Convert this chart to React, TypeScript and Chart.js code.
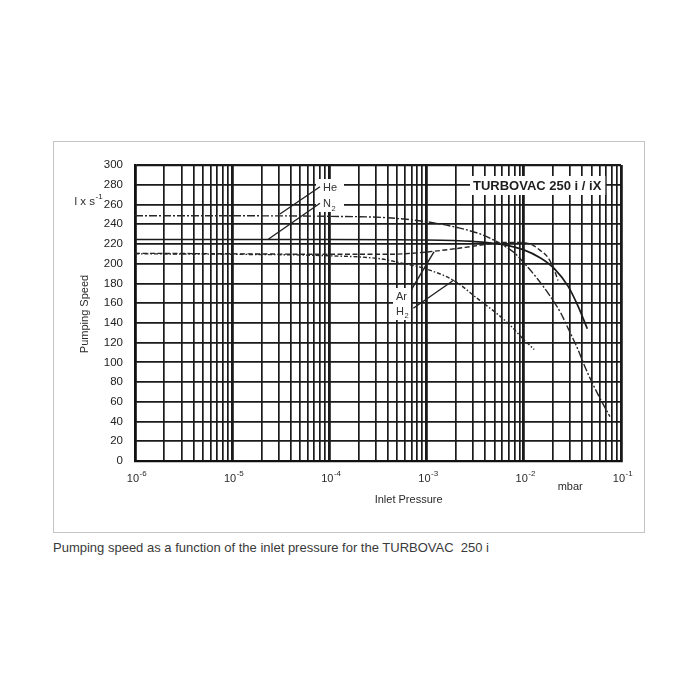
import React, { useEffect, useRef } from "react";
import { Chart, registerables } from "chart.js";

Chart.register(...registerables);

// ---- data (pressure in mbar, pumping speed in l/s) ----
const heP = [1e-6, 1e-5, 1e-4, 4e-4, 1e-3, 2.2e-3, 3.8e-3, 5.8e-3, 8e-3, 0.0102, 0.014, 0.019, 0.024, 0.029, 0.035, 0.045, 0.059, 0.077];
const heS = [248.5, 248.5, 248, 246.5, 242.5, 236, 229, 220, 211, 200, 184, 166, 150, 133, 116, 90, 66, 45];

const n2P = [1e-6, 1e-5, 1e-4, 1e-3, 3e-3, 5.7e-3, 0.01, 0.015, 0.0206, 0.0286, 0.0365, 0.045];
const n2S = [224.5, 224.5, 224.5, 224, 222.5, 219.8, 214, 205.5, 195, 177, 156, 134];

const arP = [1e-6, 1e-5, 1e-4, 4e-4, 7e-4, 1.17e-3, 2.5e-3, 4e-3, 6e-3, 0.0095, 0.0125, 0.0145, 0.0178, 0.0205, 0.0225];
const arS = [210.5, 210, 209.5, 209.5, 210.5, 212.5, 216.5, 219.5, 221.5, 221.5, 218.5, 214, 206, 194, 183];

const h2P = [1e-6, 1e-5, 1e-4, 3.3e-4, 5.3e-4, 9.2e-4, 1.9e-3, 3.5e-3, 5.5e-3, 7.5e-3, 0.01, 0.0128];
const h2S = [210, 209.5, 208, 205, 201, 195.5, 183, 163, 148, 136, 123, 113];

// axes
const decadeExponents = [-6, -5, -4, -3, -2, -1];
const yTickValues = [0, 20, 40, 60, 80, 100, 120, 140, 160, 180, 200, 220, 240, 260, 280, 300];

// annotation anchors in data coordinates [pressure, speed]
const heLeader = [[3.1e-5, 250.3], [8.0e-5, 278]];
const n2Leader = [[2.35e-5, 224.7], [8.0e-5, 261.2]];
const arLeader = [[7.0e-4, 174], [1.19e-3, 212]];
const h2Leader = [[7.3e-4, 154.8], [1.91e-3, 183.4]];
const heLabelAt = [8.6e-5, 276.5];
const n2LabelAt = [8.6e-5, 260];
const arLabelAt = [4.84e-4, 166];
const h2LabelAt = [4.84e-4, 151];

const FONT = '"Liberation Sans", Arial, Helvetica, sans-serif';
const INK = "#262626";

const gridTickValues: number[] = [];
decadeExponents.forEach((e, i) => {
  if (i === decadeExponents.length - 1) {
    gridTickValues.push(Math.pow(10, e));
  } else {
    for (let m = 1; m <= 9; m++) gridTickValues.push(m * Math.pow(10, e));
  }
});

const isDecade = (v: number) => Math.abs(Math.log10(v) - Math.round(Math.log10(v))) < 1e-6;

const pts = (p: number[], s: number[]) => p.map((x, i) => ({ x, y: s[i] }));

const annotPlugin = {
  id: "annot",
  afterDraw(chart: any) {
    const { ctx, chartArea } = chart;
    const xs = chart.scales.x;
    const ys = chart.scales.y;
    const X = (v: number) => xs.getPixelForValue(v);
    const Y = (v: number) => ys.getPixelForValue(v);
    ctx.save();

    // x tick labels 10^n
    ctx.fillStyle = "#2a2a2a";
    decadeExponents.forEach((e) => {
      const px = X(Math.pow(10, e));
      ctx.font = `11px ${FONT}`;
      ctx.textAlign = "right";
      ctx.textBaseline = "alphabetic";
      ctx.fillText("10", px + 4, 482);
      ctx.font = `8px ${FONT}`;
      ctx.textAlign = "left";
      ctx.fillText(String(e), px + 4.5, 476);
    });

    // mbar
    ctx.font = `11px ${FONT}`;
    ctx.textAlign = "center";
    ctx.fillText("mbar", X(0.03), 490);
    // Inlet Pressure
    ctx.fillText("Inlet Pressure", chartArea.left + 0.563 * (chartArea.right - chartArea.left), 503);

    // Pumping Speed (rotated)
    ctx.save();
    ctx.translate(85, (chartArea.top + chartArea.bottom) / 2 + 1);
    ctx.rotate(-Math.PI / 2);
    ctx.textAlign = "center";
    ctx.textBaseline = "middle";
    ctx.font = `11px ${FONT}`;
    ctx.fillText("Pumping Speed", 0, 0);
    ctx.restore();

    // unit l x s^-1
    ctx.font = `11.5px ${FONT}`;
    ctx.textAlign = "right";
    ctx.textBaseline = "alphabetic";
    ctx.fillText("l x s", 95, 205);
    ctx.font = `8px ${FONT}`;
    ctx.textAlign = "left";
    ctx.fillText("-1", 95.5, 199);

    // white boxes behind labels
    ctx.fillStyle = "#fff";
    ctx.fillRect(316, 179, 28, 33);
    ctx.fillRect(393, 288, 18, 32);

    // TURBOVAC title box
    ctx.font = `bold 13px ${FONT}`;
    const title = "TURBOVAC 250 i / iX";
    const tw = ctx.measureText(title).width;
    const tx = 473;
    ctx.fillRect(tx - 3, 176, tw + 7, 19);
    ctx.fillStyle = "#1e1e1e";
    ctx.textAlign = "left";
    ctx.fillText(title, tx, 190);

    // leader lines
    ctx.strokeStyle = "#222";
    ctx.lineWidth = 1.4;
    [heLeader, n2Leader, arLeader, h2Leader].forEach((l) => {
      ctx.beginPath();
      ctx.moveTo(X(l[0][0]), Y(l[0][1]));
      ctx.lineTo(X(l[1][0]), Y(l[1][1]));
      ctx.stroke();
    });

    // gas labels
    const lab = (txt: string, sub: string, at: number[]) => {
      const lx = X(at[0]);
      const ly = Y(at[1]);
      ctx.font = `11px ${FONT}`;
      ctx.textAlign = "left";
      ctx.textBaseline = "middle";
      ctx.fillStyle = "#333";
      ctx.fillText(txt, lx, ly);
      if (sub) {
        const w = ctx.measureText(txt).width;
        ctx.font = `7.5px ${FONT}`;
        ctx.fillText(sub, lx + w + 0.5, ly + 4);
      }
    };
    lab("He", "", heLabelAt);
    lab("N", "2", n2LabelAt);
    lab("Ar", "", arLabelAt);
    lab("H", "2", h2LabelAt);

    ctx.restore();
  },
};

export default function App() {
  const ref = useRef<HTMLCanvasElement>(null);

  useEffect(() => {
    if (!ref.current) return;
    const common = {
      borderColor: INK,
      borderWidth: 1.4,
      pointRadius: 0,
      fill: false,
      cubicInterpolationMode: "monotone" as const,
    };
    const chart = new Chart(ref.current, {
      type: "line",
      data: {
        datasets: [
          { ...common, label: "He", data: pts(heP, heS), borderDash: [8, 2, 2, 2] },
          { ...common, label: "N2", data: pts(n2P, n2S), borderWidth: 1.7, borderColor: "#1a1a1a" },
          { ...common, label: "Ar", data: pts(arP, arS), borderDash: [5, 2.5] },
          { ...common, label: "H2", data: pts(h2P, h2S), borderDash: [4, 2, 1.5, 2] },
        ],
      },
      options: {
        responsive: false,
        animation: false,
        devicePixelRatio: 1,
        layout: { padding: { left: 95, right: 79, top: 165, bottom: 219 } },
        plugins: {
          legend: { display: false },
          tooltip: { enabled: false },
          title: { display: false },
        },
        scales: {
          x: {
            type: "logarithmic",
            min: 1e-6,
            max: 1e-1,
            afterBuildTicks: (s: any) => {
              s.ticks = gridTickValues.map((v) => ({ value: v }));
            },
            afterFit: (s: any) => {
              s.height = 20;
            },
            ticks: { display: false },
            grid: {
              color: "#1a1a1a",
              lineWidth: (c: any) => (c.tick && isDecade(c.tick.value) ? 2.8 : 1.7),
              drawTicks: false,
            },
            border: { display: true, color: "#111", width: 2.2 },
          },
          y: {
            type: "linear",
            min: 0,
            max: 300,
            afterBuildTicks: (s: any) => {
              s.ticks = yTickValues.map((v) => ({ value: v }));
            },
            afterFit: (s: any) => {
              s.width = 40;
            },
            ticks: {
              font: { family: FONT, size: 11.5 },
              color: "#222",
              padding: 12,
              autoSkip: false,
              callback: (v: any) => String(v),
            },
            grid: {
              color: "#1a1a1a",
              lineWidth: (c: any) => (c.tick && c.tick.value === 300 ? 2.2 : 1.7),
              drawTicks: false,
            },
            border: { display: true, color: "#111", width: 2.2 },
          },
        },
      },
      plugins: [annotPlugin],
    });
    return () => chart.destroy();
  }, []);

  return (
    <div style={{ position: "absolute", left: 0, top: 0, width: 700, height: 700, background: "#fff" }}>
      <div
        style={{
          position: "absolute",
          left: 53,
          top: 141,
          width: 590,
          height: 390,
          border: "1.5px solid #c4c4c4",
        }}
      />
      <div
        style={{
          position: "absolute",
          left: 53,
          top: 540,
          fontFamily: FONT,
          fontSize: 13,
          color: "#3a3a3a",
          whiteSpace: "pre",
        }}
      >
        {"Pumping speed as a function of the inlet pressure for the TURBOVAC  250 i"}
      </div>
      <canvas
        ref={ref}
        width={700}
        height={700}
        style={{ position: "absolute", left: 0, top: 0, width: 700, height: 700 }}
      />
    </div>
  );
}
